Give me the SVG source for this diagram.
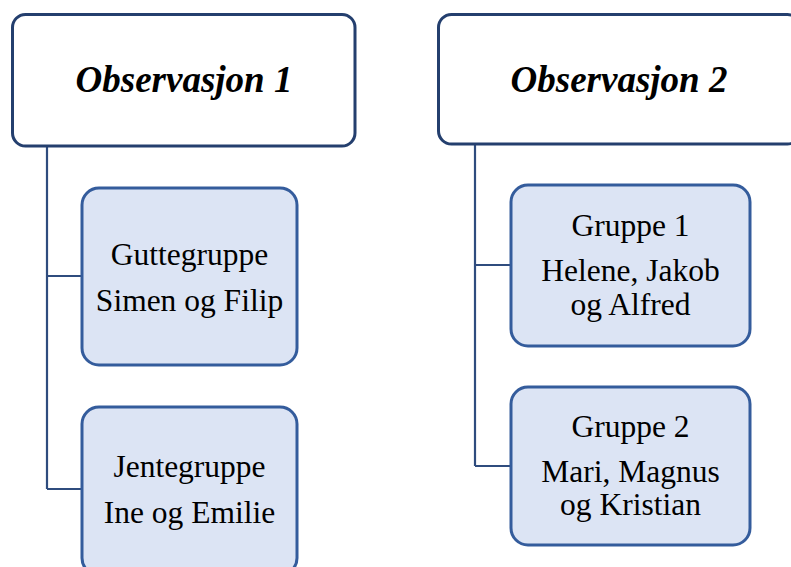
<svg xmlns="http://www.w3.org/2000/svg" width="791" height="567" viewBox="0 0 791 567">
<style>
.head{fill:#ffffff;stroke:#243F6E;stroke-width:3}
.child{fill:#DCE4F4;stroke:#345C9C;stroke-width:3}
.conn{fill:none;stroke:#2F4C7E;stroke-width:2.2}
.ht{font-family:'Liberation Serif','Times New Roman',serif;font-style:italic;font-weight:bold;font-size:37px;fill:#000;text-anchor:middle}
.ct{font-family:'Liberation Serif','Times New Roman',serif;font-size:31.5px;fill:#000;text-anchor:middle}
</style>
<rect width="791" height="567" fill="#ffffff"/>
<g id="connectors">
<path class="conn" d="M47,146 V489 M47,276 H82 M47,489 H82"/>
<path class="conn" d="M475,144 V466 M475,265 H511 M475,466 H511"/>
</g>
<g id="obs1">
<rect class="head" x="12.5" y="14.5" width="342.5" height="131.5" rx="13"/>
<text class="ht" x="184" y="92">Observasjon 1</text>
</g>
<g id="obs2">
<rect class="head" x="438.5" y="14.5" width="362" height="129.5" rx="13"/>
<text class="ht" x="619" y="92">Observasjon 2</text>
</g>
<g id="guttegruppe">
<rect class="child" x="82" y="188" width="215" height="177" rx="17"/>
<text class="ct" x="189.5" y="265">Guttegruppe</text>
<text class="ct" x="189.5" y="311">Simen og Filip</text>
</g>
<g id="jentegruppe">
<rect class="child" x="82" y="407" width="215" height="168" rx="17"/>
<text class="ct" x="189.5" y="477">Jentegruppe</text>
<text class="ct" x="189.5" y="523">Ine og Emilie</text>
</g>
<g id="gruppe1">
<rect class="child" x="511" y="185" width="239" height="161" rx="17"/>
<text class="ct" x="630.5" y="236">Gruppe 1</text>
<text class="ct" x="630.5" y="281">Helene, Jakob</text>
<text class="ct" x="630.5" y="315">og Alfred</text>
</g>
<g id="gruppe2">
<rect class="child" x="511" y="387" width="239" height="158" rx="17"/>
<text class="ct" x="630.5" y="437">Gruppe 2</text>
<text class="ct" x="630.5" y="482">Mari, Magnus</text>
<text class="ct" x="630.5" y="515">og Kristian</text>
</g>
</svg>
